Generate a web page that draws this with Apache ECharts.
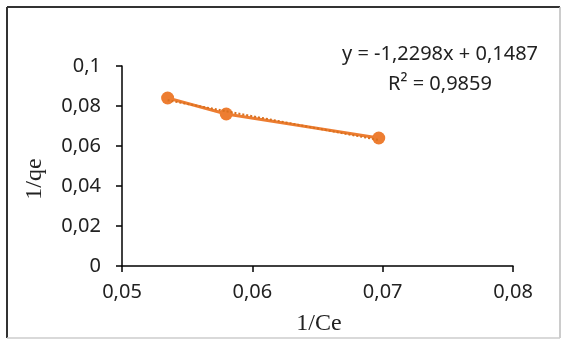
<!DOCTYPE html>
<html>
<head>
<meta charset="utf-8">
<script src="https://cdn.jsdelivr.net/npm/echarts@6/dist/echarts.min.js"></script>
<style>
html,body{margin:0;padding:0;background:#fff;}
#c{width:567px;height:343px;}
</style>
</head>
<body>
<div id="c"></div>
<script>
// Data
const xValues = [0.0535, 0.0580, 0.0697];   // 1/Ce
const yValues = [0.0840, 0.0760, 0.0640];   // 1/qe
const trendX = [0.0535, 0.0697];
const trendY = [0.0829, 0.0630];
const xTicks = [0.05, 0.06, 0.07, 0.08];
const yTicks = [0, 0.02, 0.04, 0.06, 0.08, 0.1];
const equationText = 'y = -1,2298x + 0,1487';
const r2Text = 'R² = 0,9859';
const xTitle = '1/Ce';
const yTitle = '1/qe';

const fmt = v => String(Math.round(v * 1000) / 1000).replace('.', ',');
const orange = '#ED7D31';
const tickFont = {fontFamily: 'Noto Sans', fontSize: 20, color: '#222'};

const chart = echarts.init(document.getElementById('c'), null, {renderer: 'canvas'});
chart.setOption({
  animation: false,
  backgroundColor: '#ffffff',
  grid: {left: 122, right: 54, top: 66, bottom: 77, containLabel: false},
  xAxis: {
    type: 'value', min: xTicks[0], max: xTicks[xTicks.length - 1], interval: 0.01,
    axisLine: {show: true, onZero: false, lineStyle: {color: '#000', width: 1.5}},
    axisTick: {show: true, inside: false, length: 6, lineStyle: {color: '#000', width: 1.5}},
    splitLine: {show: false},
    axisLabel: Object.assign({margin: 16, formatter: fmt}, tickFont)
  },
  yAxis: {
    type: 'value', min: yTicks[0], max: yTicks[yTicks.length - 1], interval: 0.02,
    axisLine: {show: true, lineStyle: {color: '#000', width: 1.5}},
    axisTick: {show: true, inside: false, length: 6, lineStyle: {color: '#000', width: 1.5}},
    splitLine: {show: false},
    axisLabel: Object.assign({margin: 21, formatter: fmt}, tickFont)
  },
  series: [
    {
      type: 'line',
      data: xValues.map((x, i) => [x, yValues[i]]),
      lineStyle: {color: orange, width: 3},
      itemStyle: {color: orange},
      symbol: 'circle', symbolSize: 13,
      z: 3
    },
    {
      type: 'line',
      data: trendX.map((x, i) => [x, trendY[i]]),
      lineStyle: {color: '#d9701f', width: 2, type: 'dotted'},
      symbol: 'none',
      z: 4
    }
  ],
  graphic: [
    {type: 'line', shape: {x1: 7, y1: 7, x2: 7, y2: 338}, style: {stroke: '#333', lineWidth: 2}},
    {type: 'line', shape: {x1: 7, y1: 7, x2: 560, y2: 7}, style: {stroke: '#333', lineWidth: 2}},
    {type: 'line', shape: {x1: 560, y1: 7, x2: 560, y2: 338}, style: {stroke: '#bbb', lineWidth: 1.5}},
    {type: 'line', shape: {x1: 7, y1: 338, x2: 560, y2: 338}, style: {stroke: '#ccc', lineWidth: 1.5}},
    {type: 'text', x: 440, y: 54, style: {text: equationText, fontFamily: 'Noto Sans', fontSize: 20, fill: '#222', align: 'center', verticalAlign: 'middle'}},
    {type: 'text', x: 440, y: 84, style: {text: r2Text, fontFamily: 'Noto Sans', fontSize: 20, fill: '#222', align: 'center', verticalAlign: 'middle'}},
    {type: 'text', x: 319, y: 324, style: {text: xTitle, fontFamily: 'Liberation Serif', fontSize: 24, fill: '#222', align: 'center', verticalAlign: 'middle'}},
    {type: 'text', x: 35, y: 179, rotation: Math.PI / 2, style: {text: yTitle, fontFamily: 'Liberation Serif', fontSize: 24, fill: '#222', align: 'center', verticalAlign: 'middle'}}
  ]
});
</script>
</body>
</html>
